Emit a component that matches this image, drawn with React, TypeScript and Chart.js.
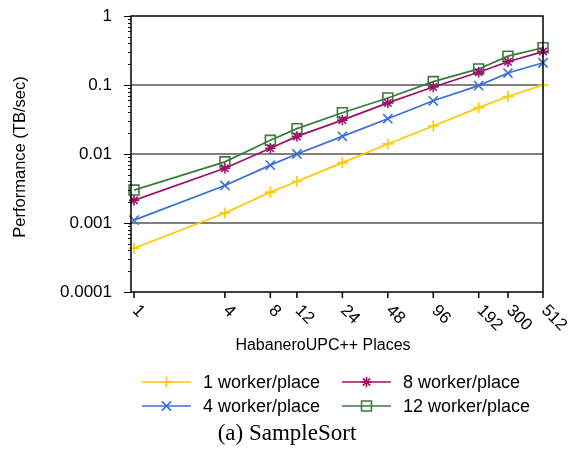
import React, { useEffect, useRef } from "react";
import { Chart, registerables } from "chart.js";

Chart.register(...registerables);

const places = [1, 4, 8, 12, 24, 48, 96, 192, 300, 512];
const placeLabels = ["1", "4", "8", "12", "24", "48", "96", "192", "300", "512"];
const w1 = [0.00043, 0.0014, 0.0028, 0.004, 0.0075, 0.014, 0.0255, 0.047, 0.068, 0.1];
const w4 = [0.0011, 0.0035, 0.0069, 0.01, 0.018, 0.0325, 0.059, 0.098, 0.149, 0.21];
const w8 = [0.00213, 0.0062, 0.0121, 0.018, 0.031, 0.055, 0.0935, 0.153, 0.217, 0.305];
const w12 = [0.003, 0.0077, 0.0158, 0.0233, 0.0397, 0.0648, 0.112, 0.171, 0.262, 0.347];
const yMajor = [0.0001, 0.001, 0.01, 0.1, 1];
const yLabels = ["0.0001", "0.001", "0.01", "0.1", "1"];
const seriesNames = ["1 worker/place", "4 worker/place", "8 worker/place", "12 worker/place"];
const seriesColors = ["#FFC800", "#3A6FD8", "#A0106A", "#3C7A3C"];
const seriesStyles = ["cross", "crossRot", "star", "rect"];
const seriesRadius = [5.5, 6.5, 5.2, 7];

const SANS = "'Liberation Sans', Arial, Helvetica, sans-serif";
const SERIF = "'Liberation Serif', 'Times New Roman', serif";

function drawMarker(ctx: CanvasRenderingContext2D, style: string, x: number, y: number, r: number, color: string) {
  ctx.save();
  ctx.strokeStyle = color;
  ctx.lineWidth = 1.6;
  ctx.beginPath();
  if (style === "cross" || style === "star") {
    ctx.moveTo(x - r, y); ctx.lineTo(x + r, y);
    ctx.moveTo(x, y - r); ctx.lineTo(x, y + r);
  }
  if (style === "crossRot" || style === "star") {
    const d = r * Math.SQRT1_2;
    ctx.moveTo(x - d, y - d); ctx.lineTo(x + d, y + d);
    ctx.moveTo(x - d, y + d); ctx.lineTo(x + d, y - d);
  }
  if (style === "rect") {
    const s = r * Math.SQRT1_2;
    ctx.rect(x - s, y - s, 2 * s, 2 * s);
  }
  ctx.stroke();
  ctx.restore();
}

const customPlugin = {
  id: "customDecor",
  beforeDatasetsDraw(chart: any) {
    const { ctx, chartArea: a, scales } = chart;
    const y = scales.y;
    ctx.save();
    ctx.strokeStyle = "#808080";
    ctx.lineWidth = 2;
    for (const v of yMajor) {
      if (v === 1 || v === 0.0001) continue;
      const py = Math.round(y.getPixelForValue(v));
      ctx.beginPath();
      ctx.moveTo(a.left, py);
      ctx.lineTo(a.right, py);
      ctx.stroke();
    }
    ctx.restore();
  },
  afterDraw(chart: any) {
    const { ctx, chartArea: a, scales } = chart;
    const x = scales.x;
    const y = scales.y;
    ctx.save();
    // plot border
    ctx.strokeStyle = "#000";
    ctx.lineWidth = 1.5;
    ctx.strokeRect(a.left, a.top, a.right - a.left, a.bottom - a.top);
    // y ticks
    ctx.lineWidth = 1;
    for (let e = -4; e <= 0; e++) {
      for (let k = 1; k <= 9; k++) {
        if (e === 0 && k > 1) break;
        const v = k * Math.pow(10, e);
        const py = Math.round(y.getPixelForValue(v)) + 0.5;
        const len = k === 1 ? 7 : 3;
        ctx.beginPath();
        ctx.moveTo(a.left - len, py);
        ctx.lineTo(a.left, py);
        ctx.stroke();
      }
    }
    // x ticks and labels
    ctx.lineWidth = 1.5;
    ctx.fillStyle = "#000";
    ctx.font = `17px ${SANS}`;
    ctx.textAlign = "left";
    ctx.textBaseline = "middle";
    places.forEach((p, i) => {
      const px = x.getPixelForValue(p);
      ctx.beginPath();
      ctx.moveTo(px, a.bottom);
      ctx.lineTo(px, a.bottom + 6);
      ctx.stroke();
      ctx.save();
      ctx.translate(px + 1, a.bottom + 16);
      ctx.rotate(Math.PI / 4);
      ctx.fillText(placeLabels[i], 0, 0);
      ctx.restore();
    });
    // axis titles
    ctx.font = `16px ${SANS}`;
    ctx.textAlign = "center";
    ctx.fillText("HabaneroUPC++ Places", 323, 346);
    ctx.font = `16.5px ${SANS}`;
    ctx.save();
    ctx.translate(20, 157);
    ctx.rotate(-Math.PI / 2);
    ctx.fillText("Performance (TB/sec)", 0, 0);
    ctx.restore();
    // legend
    const cols = [142, 342];
    const rows = [382, 406];
    ctx.font = `18px ${SANS}`;
    ctx.textAlign = "left";
    const order = [0, 2, 1, 3];
    order.forEach((si, idx) => {
      const cx = cols[idx % 2];
      const cy = rows[Math.floor(idx / 2)];
      ctx.strokeStyle = seriesColors[si];
      ctx.lineWidth = 1.7;
      ctx.beginPath();
      ctx.moveTo(cx, cy);
      ctx.lineTo(cx + 49, cy);
      ctx.stroke();
      drawMarker(ctx, seriesStyles[si], cx + 24.5, cy, seriesRadius[si], seriesColors[si]);
      ctx.fillStyle = "#000";
      ctx.fillText(seriesNames[si], cx + 61, cy + 1);
    });
    // caption
    ctx.font = `23px ${SERIF}`;
    ctx.textAlign = "center";
    ctx.fillText("(a) SampleSort", 287, 434);
    ctx.restore();
  },
};

export default function App() {
  const ref = useRef<HTMLCanvasElement>(null);
  useEffect(() => {
    if (!ref.current) return;
    const seriesData = [w1, w4, w8, w12];
    const chart = new Chart(ref.current, {
      type: "line",
      data: {
        datasets: seriesData.map((vals, i) => ({
          label: seriesNames[i],
          data: places.map((p, j) => ({ x: p, y: vals[j] })),
          borderColor: seriesColors[i],
          backgroundColor: "transparent",
          borderWidth: 1.7,
          pointStyle: seriesStyles[i] as any,
          pointRadius: seriesRadius[i],
          pointBorderWidth: 1.6,
          pointBorderColor: seriesColors[i],
          pointBackgroundColor: "transparent",
          pointHoverRadius: seriesRadius[i],
          tension: 0,
          clip: false as any,
        })),
      },
      options: {
        responsive: false,
        animation: false,
        devicePixelRatio: 1,
        layout: { padding: { left: 0, top: 16, right: 25, bottom: 0 } },
        plugins: { legend: { display: false }, tooltip: { enabled: false } },
        events: [],
        scales: {
          x: {
            type: "logarithmic",
            min: 0.955,
            max: 512,
            ticks: { display: false },
            grid: { display: false, drawTicks: false },
            border: { display: false },
            afterFit: (s: any) => { s.height = 169; s.paddingLeft = 0; s.paddingRight = 0; },
          },
          y: {
            type: "logarithmic",
            min: 0.0001,
            max: 1,
            afterBuildTicks: (s: any) => { s.ticks = yMajor.map((v) => ({ value: v })); },
            ticks: {
              padding: 19,
              color: "#000",
              font: { family: SANS, size: 17 },
              callback: (v: any) => {
                const i = yMajor.findIndex((m) => Math.abs(m - v) / m < 1e-6);
                return i >= 0 ? yLabels[i] : "";
              },
            },
            grid: { display: false, drawTicks: false },
            border: { display: false },
            afterFit: (s: any) => { s.width = 131; s.paddingTop = 0; s.paddingBottom = 0; },
          },
        },
      },
      plugins: [customPlugin],
    });
    return () => chart.destroy();
  }, []);
  return (
    <div style={{ position: "absolute", left: 0, top: 0, width: 568, height: 461, background: "#fff" }}>
      <canvas ref={ref} width={568} height={461} style={{ width: 568, height: 461, display: "block" }} />
    </div>
  );
}
